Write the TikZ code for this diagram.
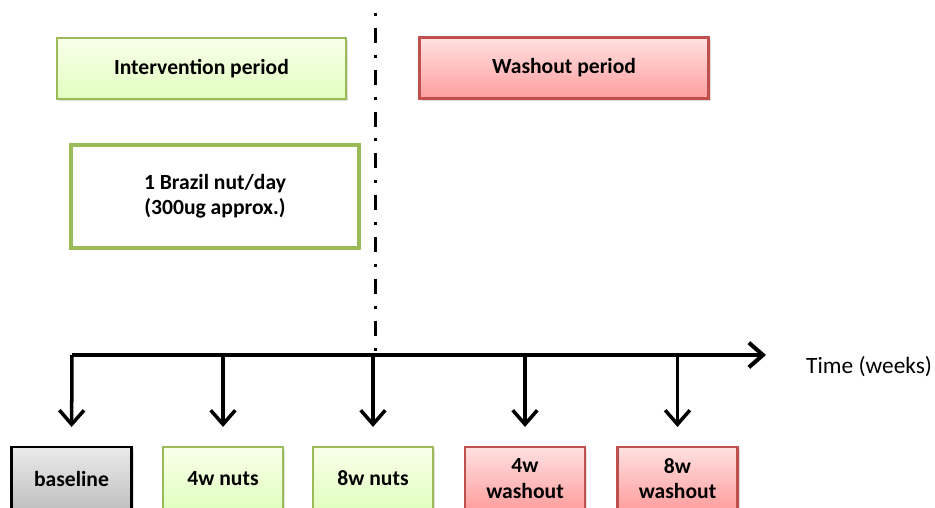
\documentclass[tikz,border=0pt]{standalone}
\usepackage{fontspec}
\setmainfont{Carlito}
\usetikzlibrary{positioning}
\usetikzlibrary{arrows.meta}
\usetikzlibrary{shadows}
\definecolor{nutgreen}{HTML}{9BBB59}
\definecolor{washred}{HTML}{C0504D}

\begin{document}
\begin{tikzpicture}[x=0.02cm, y=-0.02cm,
		every node/.style={font=\fontsize{12.3}{14.5}\selectfont\bfseries, align=center},
		soft/.style={drop shadow={shadow xshift=1.2pt, shadow yshift=-1.2pt, opacity=0.25}},
		nutbox/.style={draw=nutgreen, line width=1.2pt, top color=green!4!lime!8, bottom color=green!30!lime!25, soft},
		washbox/.style={draw=washred, line width=1.2pt, top color=red!12, bottom color=red!38, soft},
		basebox/.style={draw=black, line width=1.2pt, top color=black!8, bottom color=black!25, soft},
		visit/.style={minimum width=2.4cm, minimum height=1.26cm},
		period/.style={minimum width=5.78cm, minimum height=1.22cm},
		drop/.style={line width=2pt, -{Straight Barb[length=8pt, width=14pt]}, shorten >=0.38cm}]
				\useasboundingbox (0,0) rectangle (935,507);
				\node[nutbox, period] (interv) at (201.5,68.5) {Intervention period};
				\node[washbox, period] (washout) at (564,68) {Washout period};
				\node[draw=nutgreen, line width=2.3pt, fill=white, minimum width=5.76cm, minimum height=2.06cm] (dose) at (215,196.5) {1 Brazil nut/day\\(300ug approx.)};
				\draw[line width=1.7pt, dash pattern=on 1.7pt off 6.8pt on 8.5pt off 6.8pt] (375,13) -- (375,352);
				\coordinate (t0) at (72,355);
				\coordinate (tend) at (766,355);
				\draw[line width=2.3pt, -{Straight Barb[length=8pt, width=14pt]}] (t0) -- (tend);
				\node[anchor=west, font=\fontsize{13.3}{15}\selectfont] (time) at (800,367) {Time (weeks)};
				\node[basebox, visit] (base) at (71.5,478.5) {baseline};
				\node[nutbox, visit] (nuts4) at (223,478.5) {4w nuts};
				\node[nutbox, visit] (nuts8) at (373,478.5) {8w nuts};
				\node[washbox, visit] (wash4) at (525,478.5) {4w\\washout};
				\node[washbox, visit] (wash8) at (677.5,478.5) {8w\\washout};
				\draw[drop] (t0) -- (base.north);
				\draw[drop] (nuts4.north |- t0) -- (nuts4.north);
				\draw[drop] (nuts8.north |- t0) -- (nuts8.north);
				\draw[drop] (wash4.north |- t0) -- (wash4.north);
				\draw[drop] (wash8.north |- t0) -- (wash8.north);
		    \end{tikzpicture}
\end{document}
